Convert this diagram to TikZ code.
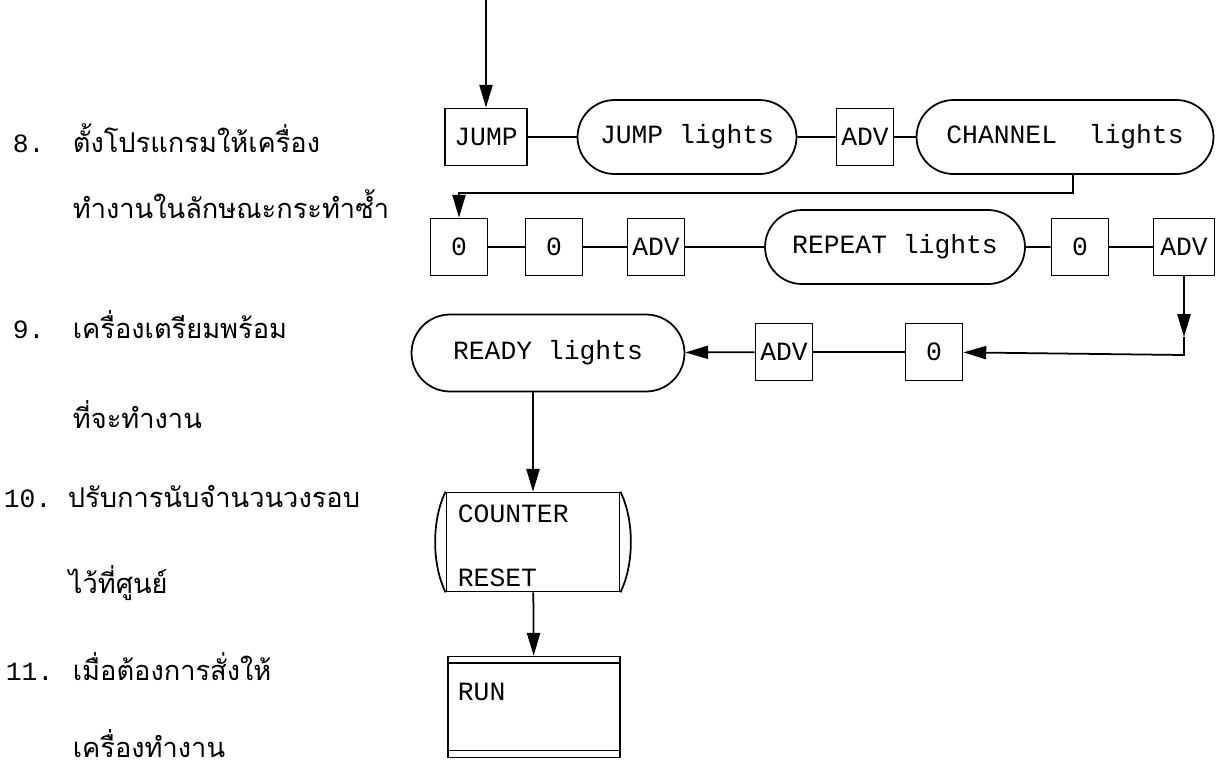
\documentclass[tikz,border=0pt]{standalone}
\usepackage{fontspec}
\setmonofont{Liberation Mono}
\newfontfamily\thaifont[Script=Thai]{Loma}
\usepackage{tikz}
\usetikzlibrary{shapes.misc,arrows.meta}

\begin{document}
\begin{tikzpicture}[x=0.02cm, y=-0.02cm, line width=1pt,
    >={Triangle[length=13pt,width=7.5pt]},
    box/.style={draw, rectangle, inner sep=0pt, minimum width=1.14cm, minimum height=1.14cm, font=\ttfamily\fontsize{15}{18}\selectfont},
    lights/.style={draw, rounded rectangle, inner sep=0pt, minimum height=1.48cm, font=\ttfamily\fontsize{15}{18}\selectfont},
    tw/.style={anchor=base west, inner sep=0pt, font=\ttfamily\fontsize{15}{18}\selectfont},
    thai/.style={anchor=base west, inner sep=0pt, font=\thaifont\fontsize{15.5}{19}\selectfont}]
    \useasboundingbox (0,0) rectangle (1216,772);

    % steps on the left
    \node[tw] (n8) at (12,152) {8.};
    \node[thai] (t8a) at (72,152) {ตั้งโปรแกรมให้เครื่อง};
    \node[thai] (t8b) at (72,218) {ทำงานในลักษณะกระทำซ้ำ};
    \node[tw] (n9) at (12,338) {9.};
    \node[thai] (t9a) at (72,338) {เครื่องเตรียมพร้อม};
    \node[thai] (t9b) at (72,428) {ที่จะทำงาน};
    \node[tw] (n10) at (3,507) {10.};
    \node[thai] (t10a) at (67,507) {ปรับการนับจำนวนวงรอบ};
    \node[thai] (t10b) at (68,593) {ไว้ที่ศูนย์};
    \node[tw] (n11) at (5,680) {11.};
    \node[thai] (t11a) at (72,680) {เมื่อต้องการสั่งให้};
    \node[thai] (t11b) at (72,757) {เครื่องทำงาน};

    % row 1
    \coordinate (start) at (486,0);
    \node[box, minimum width=1.64cm] (jump) at (486,137) {JUMP};
    \node[lights, minimum width=4.38cm] (jumplights) at (687,137) {JUMP lights};
    \node[box] (adv1) at (865,137) {ADV};
    \node[lights, minimum width=5.94cm] (chan) at (1065,137) {CHANNEL~~lights};
    \draw[->] (start) -- (jump);
    \draw (jump) -- (jumplights);
    \draw (jumplights) -- (adv1);
    \draw (adv1) -- (chan);

    % row 2
    \node[box] (o1) at (459,247) {0};
    \node[box] (o2) at (554,247) {0};
    \node[box] (adv2) at (656,247) {ADV};
    \node[lights, minimum width=5.2cm] (repeat) at (895,247) {REPEAT lights};
    \node[box] (o3) at (1080,247) {0};
    \node[box, minimum width=1.22cm] (adv3) at (1184,247) {ADV};
    \draw[->] ([xshift=0.16cm]chan.south) -- ++(0,18) -| (o1);
    \draw (o1) -- (o2);
    \draw (o2) -- (adv2);
    \draw (adv2) -- (repeat);
    \draw (repeat) -- (o3);
    \draw (o3) -- (adv3);

    % row 3
    \node[box] (o4) at (934,352) {0};
    \node[box] (adv4) at (784,352) {ADV};
    \node[lights, minimum width=5.46cm, minimum height=1.54cm] (ready) at (548,353) {READY lights};
    \coordinate (dropmid) at (1184,337);
    \coordinate (turn) at (1184,355);
    \draw[->] (adv3) -- (dropmid);
    \draw[->] (dropmid) -- (turn) -- (o4);
    \draw (o4) -- (adv4);
    \draw[->] (adv4) -- (ready);

    % counter reset
    \node[draw, rectangle, minimum width=3.46cm, minimum height=1.98cm] (counter) at (533,542) {};
    \draw (counter.north west) .. controls +(-14,28) and +(-14,-28) .. (counter.south west);
    \draw (counter.north east) .. controls +(14,28) and +(14,-28) .. (counter.south east);
    \node[tw] (ctext) at (457,522) {COUNTER};
    \node[tw] (rtext) at (457,586) {RESET};
    \draw[->] (ready.south -| counter.north) -- (counter.north);

    % run
    \node[draw, rectangle, minimum width=3.44cm, minimum height=2.02cm] (run) at (534,707) {};
    \draw ([yshift=-0.14cm]run.north west) -- ([yshift=-0.14cm]run.north east);
    \draw ([yshift=0.16cm]run.south west) -- ([yshift=0.16cm]run.south east);
    \node[tw] (runtext) at (457,700) {RUN};
    \draw[->] (counter) -- (run);
\end{tikzpicture}
\end{document}
